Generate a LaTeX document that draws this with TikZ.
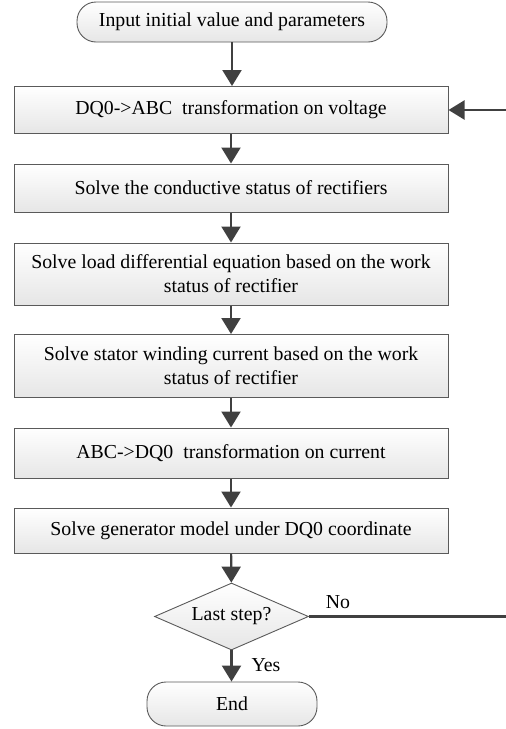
\documentclass[tikz,border=0pt]{standalone}
\usepackage{fontspec}
\setmainfont{Liberation Serif}
\usetikzlibrary{arrows.meta,shapes.geometric}
\definecolor{arrowc}{RGB}{64,64,64}
\definecolor{borderc}{RGB}{90,90,90}
\definecolor{shadebot}{RGB}{230,230,230}
\begin{document}
\begin{tikzpicture}[x=1pt,y=-1pt,
  every node/.style={font=\fontsize{19.8}{24}\selectfont},
  procbox/.style={draw=borderc,line width=1pt,top color=white,bottom color=shadebot,
    minimum width=434pt,align=center,inner sep=0pt},
  termbox/.style={draw=borderc,line width=0.9pt,top color=white,bottom color=shadebot,
    rounded corners=19pt,inner sep=0pt},
  decbox/.style={draw=borderc,line width=0.9pt,top color=white,bottom color=shadebot,
    diamond,shape aspect=2.3,inner sep=0pt,minimum width=154pt,minimum height=67pt},
  flow/.style={draw=arrowc,line width=2.2pt,-{Triangle[length=16pt,width=19pt]}},
  plainline/.style={draw=arrowc,line width=2.2pt},
  lbl/.style={inner sep=0pt}
]
\useasboundingbox (0,0) rectangle (506,729);
\node[termbox,minimum width=310pt,minimum height=40pt] (start) at (232,22) {Input initial value and parameters};
\node[procbox,minimum height=47pt] (b1) at (231,110) {DQ0->ABC\ \ transformation on voltage};
\node[procbox,minimum height=48pt] (b2) at (231,188) {Solve the conductive status of rectifiers};
\node[procbox,minimum height=62pt] (b3) at (231,274) {Solve load differential equation based on the work\\status of rectifier};
\node[procbox,minimum height=63pt] (b4) at (231,366) {Solve stator winding current based on the work\\status of rectifier};
\node[procbox,minimum height=50pt] (b5) at (231,453) {ABC->DQ0\ \ transformation on current};
\node[procbox,minimum height=45pt] (b6) at (231,530.5) {Solve generator model under DQ0 coordinate};
\node[decbox] (dec) at (231.5,616.5) {Last step?};
\node[termbox,minimum width=170pt,minimum height=44pt] (end) at (232,704) {End};

\coordinate (noend) at (506,616.5);
\coordinate (fbstart) at (506,110);

\draw[flow] (start.south) -- (b1.north -| start.south);
\draw[flow] (b1) -- (b2);
\draw[flow] (b2) -- (b3);
\draw[flow] (b3) -- (b4);
\draw[flow] (b4) -- (b5);
\draw[flow] (b5) -- (b6);
\draw[flow] (b6) -- (dec);
\draw[flow] (dec.south) -- (end.north -| dec.south);
\draw[plainline] (dec.east) -- (noend);
\draw[flow] (fbstart) -- (b1.east);

\node[lbl] (no) at (338,602) {No};
\node[lbl] (yes) at (266,665) {Yes};
\end{tikzpicture}
\end{document}
